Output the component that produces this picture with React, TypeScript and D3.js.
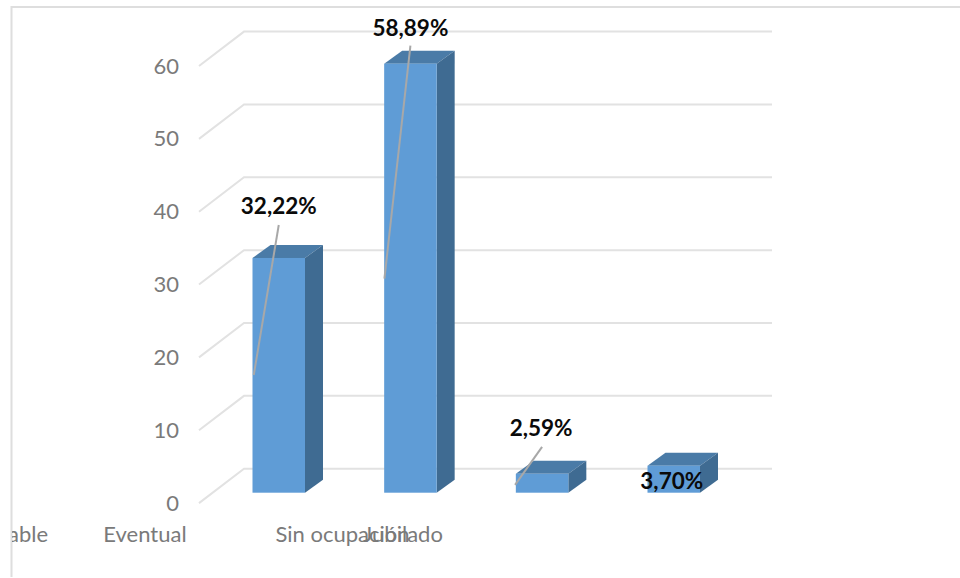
import React from "react";
import * as d3 from "d3";

const categories = ["Estable", "Eventual", "Sin ocupación", "Jubilado"];
const barCategories = ["Eventual", "Sin ocupación", "Jubilado", "Otro"];
const barValues = [32.22, 58.89, 2.59, 3.7];
const barLabels = ["32,22%", "58,89%", "2,59%", "3,70%"];
const yTicks = [0, 10, 20, 30, 40, 50, 60];

const W = 960;
const H = 578;
const DX = 18;
const DY = -13;
const BAR_W = 52.5;
const FONT = "Lato, Carlito, sans-serif";

const y = d3.scaleLinear().domain([0, 60]).range([492.7, 55.6]);
const xCenter = d3.scalePoint<string>().domain(barCategories).range([278.75, 673.75]);
const catX = d3.scaleOrdinal<string, number>().domain(categories).range([13, 145, 342.5, 403]);

// label centre and leader-line ends, relative to bar centre / bar top
const labelOffset = [
  { dx: 0, dy: -52, leader: [0, -33, -25, 117] },
  { dx: 0, dy: -36, leader: [0, -18, -26, 215] },
  { dx: -1, dy: -46, leader: [0, -27, -27, 11] },
  { dx: -2, dy: 15, leader: null as number[] | null },
];

export default function App() {
  const line = d3.line<[number, number]>();
  return (
    <svg width={W} height={H} viewBox={`0 0 ${W} ${H}`} style={{ position: "absolute", left: 0, top: 0, background: "#fff" }}>
      <defs>
        <clipPath id="frame">
          <rect x={12} y={0} width={W} height={H} />
        </clipPath>
      </defs>
      <path d={line([[11.5, 577], [11.5, 7], [960, 7]]) ?? ""} fill="none" stroke="#dedede" strokeWidth={2} />
      {yTicks.map((t) => {
        const yb = y(t) - 24;
        const yf = y(t) + 10.4;
        return (
          <g key={t}>
            <path d={line([[199, yf], [244, yb], [772, yb]]) ?? ""} fill="none" stroke="#e2e2e2" strokeWidth={2} />
            <text x={179} y={yf - 1} textAnchor="end" dominantBaseline="central" fontFamily={FONT} fontSize={22} fill="#7a7a7a">
              {t}
            </text>
          </g>
        );
      })}
      {barValues.map((v, i) => {
        const cx = xCenter(barCategories[i]) as number;
        const x0 = cx - BAR_W / 2;
        const x1 = cx + BAR_W / 2;
        const top = y(v);
        const base = y(0);
        return (
          <g key={i}>
            <path d={line([[x0, top], [x1, top], [x1 + DX, top + DY], [x0 + DX, top + DY]]) + "Z"} fill="#4a7ba7" />
            <path d={line([[x1, top], [x1 + DX, top + DY], [x1 + DX, base + DY], [x1, base]]) + "Z"} fill="#3f6b92" />
            <rect x={x0} y={top} width={BAR_W} height={base - top} fill="#5f9cd6" />
          </g>
        );
      })}
      {barValues.map((v, i) => {
        const o = labelOffset[i];
        const cx = xCenter(barCategories[i]) as number;
        const top = y(v);
        return (
          <g key={i}>
            {o.leader && (
              <path
                d={line([[cx + o.leader[0], top + o.leader[1]], [cx + o.leader[2], top + o.leader[3]]]) ?? ""}
                stroke="#a8a8a8"
                strokeWidth={2}
                fill="none"
              />
            )}
            <text x={cx + o.dx} y={top + o.dy} textAnchor="middle" dominantBaseline="central" fontFamily={FONT} fontWeight={700} fontSize={22.5} fill="#0a0a0a">
              {barLabels[i]}
            </text>
          </g>
        );
      })}
      <g clipPath="url(#frame)">
        {categories.map((c) => (
          <text key={c} x={catX(c)} y={533} textAnchor="middle" dominantBaseline="central" fontFamily={FONT} fontSize={22} fill="#7a7a7a">
            {c}
          </text>
        ))}
      </g>
    </svg>
  );
}
